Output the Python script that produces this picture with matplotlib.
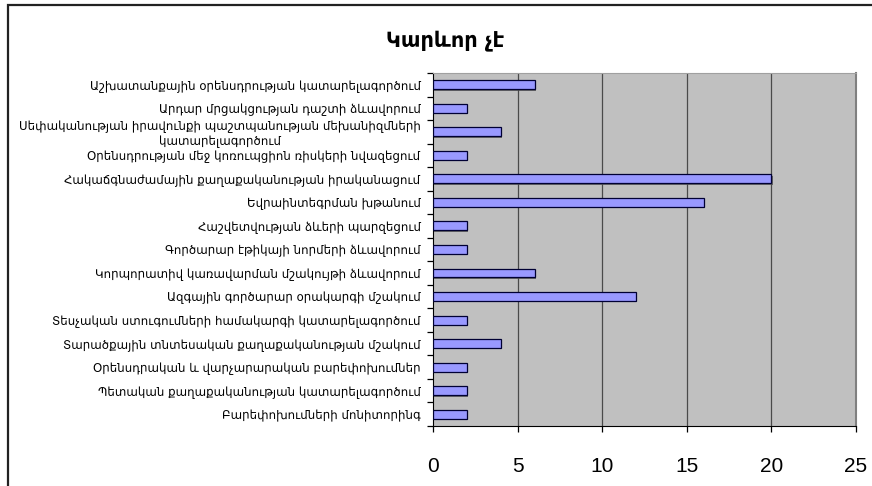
import matplotlib.pyplot as plt
import matplotlib.patheffects as pe
from matplotlib.patches import Rectangle

# Categories top to bottom, as shown in the chart
categories = [
    "Աշխատանքային օրենսդրության կատարելագործում",
    "Արդար մրցակցության դաշտի ձևավորում",
    "Սեփականության իրավունքի պաշտպանության մեխանիզմների\nկատարելագործում",
    "Օրենսդրության մեջ կոռուպցիոն ռիսկերի նվազեցում",
    "Հակաճգնաժամային քաղաքականության իրականացում",
    "Եվրաինտեգրման խթանում",
    "Հաշվետվության ձևերի պարզեցում",
    "Գործարար էթիկայի նորմերի ձևավորում",
    "Կորպորատիվ կառավարման մշակույթի ձևավորում",
    "Ազգային գործարար օրակարգի մշակում",
    "Տեսչական ստուգումների համակարգի կատարելագործում",
    "Տարածքային տնտեսական քաղաքականության մշակում",
    "Օրենսդրական և վարչարարական բարեփոխումներ",
    "Պետական քաղաքականության կատարելագործում",
    "Բարեփոխումների մոնիտորինգ",
]
values = [6, 2, 4, 2, 20, 16, 2, 2, 6, 12, 2, 4, 2, 2, 2]
title = "Կարևոր չէ"
x_ticks = [0, 5, 10, 15, 20, 25]

plt.rcParams['font.family'] = ['DejaVu Sans']

fig = plt.figure(figsize=(8.72, 4.86), dpi=100)
ax = fig.add_axes([0.4966, 0.1235, 0.4851, 0.7263])
ax.set_facecolor('#C0C0C0')

# outer chart border (runs off the right/bottom edges)
fig.patches.append(Rectangle((8 / 872, -0.1), 1.2, 1 - 5 / 486 + 0.1,
                             transform=fig.transFigure, fill=False,
                             edgecolor='#222222', linewidth=1.6, clip_on=False))

ypos = list(range(len(categories)))
bars = ax.barh(ypos, values, height=0.38, color='#9999FF',
               edgecolor='#000033', linewidth=0.9, zorder=3)
for b in bars:
    b.set_path_effects([pe.SimplePatchShadow(offset=(1.0, -1.0),
                                             shadow_rgbFace='#505050', alpha=0.8),
                        pe.Normal()])

ax.set_xlim(0, 25)
ax.set_ylim(len(categories) - 0.5, -0.5)
ax.set_xticks(x_ticks)
ax.set_xticklabels([str(v) for v in x_ticks], fontsize=15,
                   family=['Liberation Sans', 'DejaVu Sans'])
ax.tick_params(axis='x', length=4, width=0.9, pad=18, direction='out')

ax.set_yticks(ypos)
ax.set_yticklabels(categories, fontsize=8.5, multialignment='center')
ax.set_yticks([i - 0.5 for i in range(len(categories) + 1)], minor=True)
ax.tick_params(axis='y', which='major', length=0, pad=9)
ax.tick_params(axis='y', which='minor', length=4, width=0.9, direction='out')

for v in x_ticks[1:-1]:
    ax.axvline(v, color='#4a4a4a', linewidth=0.9, zorder=1)

ax.spines['left'].set_color('black')
ax.spines['bottom'].set_color('black')
ax.spines['top'].set_color('#a0a0a0')
ax.spines['right'].set_color('#808080')
ax.spines['right'].set_linewidth(1.5)

fig.text(0.51, 0.916, title, fontsize=15, fontweight='bold', ha='center', va='center')

fig.savefig('out.png', dpi=100)
